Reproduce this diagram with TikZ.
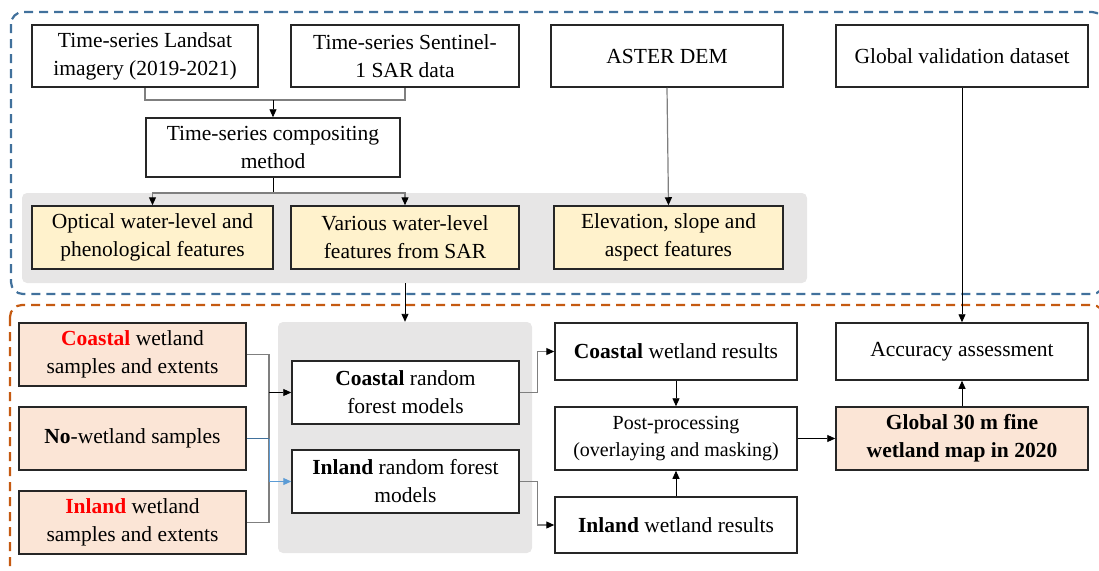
\documentclass[tikz,border=0pt]{standalone}
\usepackage{fontspec}
\setmainfont{Liberation Serif}
\usetikzlibrary{arrows.meta,positioning}

\definecolor{frameblue}{HTML}{41719C}
\definecolor{frameorange}{HTML}{C55A11}
\definecolor{panelgray}{HTML}{E7E6E6}
\definecolor{featyellow}{HTML}{FFF2CC}
\definecolor{samplepink}{HTML}{FBE5D6}
\definecolor{linkgray}{HTML}{7F7F7F}
\definecolor{linkblue}{HTML}{5B9BD5}
\definecolor{boxline}{HTML}{262626}

\begin{document}
\begin{tikzpicture}[x=1pt, y=-1pt, >={Triangle[length=8pt,width=7pt]},
    box/.style={draw=boxline, line width=1.5pt, fill=white, align=center, inner sep=0pt,
                minimum height=62pt, font=\fontsize{21.5}{28}\selectfont},
    feat/.style={box, fill=featyellow, minimum height=63pt},
    sample/.style={box, fill=samplepink, minimum width=227pt, minimum height=63pt},
    panel/.style={fill=panelgray, rounded corners=5pt, inner sep=0pt},
    link/.style={draw=black, line width=0.9pt},
    glink/.style={draw=linkgray, line width=1.2pt},
    garrow/.style={glink, -{Triangle[length=8pt,width=7pt,color=black]}},
    frame/.style={dash pattern=on 9pt off 6pt, line width=2.2pt, rounded corners=12pt}]

    \useasboundingbox (0,0) rectangle (1099,570);

    % dashed frames
    \draw[frame, frameblue]   (11,12)  rectangle (1104,294);
    \draw[frame, frameorange] (10,305) rectangle (1104,590);

    % grey panels
    \node[panel, minimum width=785pt, minimum height=90pt]  (featpanel) at (414.5,238)  {};
    \node[panel, minimum width=254pt, minimum height=231pt] (rfpanel)   at (405,437.5)  {};

    % data sources
    \node[box, minimum width=226pt]                        (landsat)  at (145,56) {Time-series Landsat\\imagery (2019-2021)};
    \node[box, minimum width=228pt, right=31.5pt of landsat] (sentinel) {Time-series Sentinel-\\1 SAR data};
    \node[box, minimum width=232pt, right=30.5pt of sentinel] (aster)   {ASTER DEM};
    \node[box, minimum width=252pt, right=51.5pt of aster]    (gval)    {Global validation dataset};

    \node[box, minimum width=254pt, minimum height=59pt] (compo) at (273,147.5) {Time-series compositing\\method};

    % features
    \node[feat, minimum width=241pt]                        (optical) at (152.5,237.5) {Optical water-level and\\phenological features};
    \node[feat, minimum width=228pt, right=16.5pt of optical] (various) {Various water-level\\features from SAR};
    \node[feat, minimum width=229pt, right=33.5pt of various] (elev)    {Elevation, slope and\\aspect features};

    % samples
    \node[sample]                        (cwet)  at (132.5,354.5) {\textcolor{red}{\textbf{Coastal}} wetland\\samples and extents};
    \node[sample, below=19.5pt of cwet]  (nowet) {\textbf{No}-wetland samples};
    \node[sample, below=19.5pt of nowet] (iwet)  {\textcolor{red}{\textbf{Inland}} wetland\\samples and extents};

    % models
    \node[box, minimum width=227pt, minimum height=63pt]                   (crf) at (405.5,392.5) {\textbf{Coastal} random\\forest models};
    \node[box, minimum width=227pt, minimum height=63pt, below=24.5pt of crf] (irf) {\textbf{Inland} random forest\\models};

    % results
    \node[box, minimum width=242pt, minimum height=57pt] (cres) at (676,351.5) {\textbf{Coastal} wetland results};
    \node[box, minimum width=242pt, minimum height=63pt, below=25.5pt of cres, font=\fontsize{20}{27}\selectfont] (post) {Post-processing\\(overlaying and masking)};
    \node[box, minimum width=242pt, minimum height=56pt, below=25.5pt of post] (ires) {\textbf{Inland} wetland results};
    \node[box, minimum width=252pt, minimum height=57pt] (acc) at (962,351.5) {Accuracy assessment};
    \node[box, fill=samplepink, minimum width=252pt, minimum height=63pt, below=25.5pt of acc] (gmap) {\textbf{Global 30 m fine}\\\textbf{wetland map in 2020}};

    % connectors, top
    \coordinate (merge) at (273,100);
    \coordinate (split) at (273,193);
    \draw[glink] (landsat.south) |- (merge) -| (sentinel.south);
    \draw[link,->] (merge) -- (compo.north);
    \draw[link] (compo.south) -- (split);
    \draw[garrow] (split) -| (optical.north);
    \draw[garrow] (split) -| (various.north);
    \draw[garrow] (aster.south) -- (elev.north);
    \draw[link,->] (gval.south) -- (acc.north);
    \draw[link,->] (featpanel.south -| various.south) -- (rfpanel.north);

    % connectors, bottom
    \coordinate (join) at (269,438.5);
    \draw[glink] (cwet.east) -| (join) |- (iwet.east);
    \draw[link,->] (join |- crf.west) -- (crf.west);
    \draw[draw=frameblue, line width=1pt] (nowet.east) -- (join);
    \draw[draw=linkblue, line width=1pt, ->] (join) |- (irf.west);
    \draw[garrow] (crf.east) -- ++(18,0) |- (cres.west);
    \draw[garrow] (irf.east) -- ++(18,0) |- (ires.west);
    \draw[link,->] (cres.south) -- (post.north);
    \draw[link,->] (ires.north) -- (post.south);
    \draw[link,->] (post.east) -- (gmap.west);
    \draw[link,->] (gmap.north) -- (acc.south);
\end{tikzpicture}
\end{document}
